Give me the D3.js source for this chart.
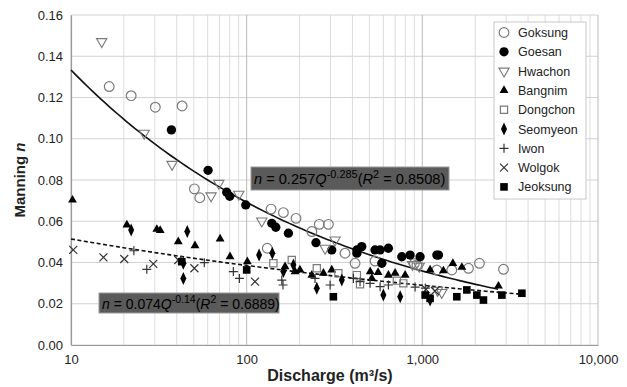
<!DOCTYPE html>
<html><head><meta charset="utf-8">
<script src="https://cdn.jsdelivr.net/npm/d3@7"></script>
<style>
body{margin:0;background:#fff}
svg{font-family:"Liberation Sans",Arial,Helvetica,sans-serif}
</style>
</head><body>
<svg id="chart" width="627" height="387"></svg>
<script>
// ---- data: [discharge Q (m3/s), Manning n] ----
const goksung=[[16.5,.1253],[22,.1209],[30.2,.1153],[42.9,.1159],[50.4,.0757],[54.1,.0714],[131,.0469],[137.7,.0659],[161.8,.0642],[191,.0614],[235,.0550],[259,.0585],[292,.0585],[363,.0445],[414,.0396],[538,.0407],[900,.0395],[931,.0388],[1209,.0364],[1472,.0364],[1831,.0372],[2114,.0396],[2897,.0367]];
const goesan=[[37.3,.1043],[60.3,.0847],[77,.0741],[80.1,.0721],[98.8,.0679],[139,.0590],[146.5,.0571],[172.8,.0542],[248,.0496],[305,.0461],[424,.0461],[452,.0477],[424,.0445],[538,.0461],[575,.0461],[641,.0469],[588,.0396],[764,.0428],[852,.0436],[971,.0428],[1209,.0436],[1236,.0436]];
const hwachon=[[14.95,.1471],[26.1,.1027],[37.6,.0876],[62.7,.0723],[69.4,.0784],[90.2,.0731],[121.9,.0601],[279.6,.0469],[318.6,.0509],[880,.0390],[960,.0382],[1220,.0265],[1290,.0255]];
const bangnim=[[10.2,.0703],[20.8,.0582],[30.8,.0561],[32.2,.0556],[40.8,.0501],[50.8,.0482],[70.6,.0514],[80.4,.0428],[100.9,.0404],[165.4,.0380],[188.6,.0356],[201,.0364],[235,.0339],[273.4,.0348],[305,.0364],[505,.0356],[516,.0323],[560,.0352],[641,.0339],[700,.0348],[798,.0339],[1107,.0364],[1318,.0360],[1492,.0396],[1679,.0377],[2712,.0286]];
const dongchon=[[141.9,.0396],[180.6,.0412],[250.7,.0372],[332.7,.0348],[424,.0339],[442,.0294],[716,.0312],[780,.0299]];
const seomyeon=[[22,.0558],[45.9,.0550],[43.6,.0396],[43.6,.0323],[117.7,.0436],[140,.0445],[161.8,.0356],[184.5,.0388],[250.7,.0275],[348,.0315],[600,.0242],[748,.0234],[1107,.0218]];
const iwon=[[22.8,.0457],[27,.0367],[57.4,.0399],[84,.0356],[90.9,.0323],[158.5,.0315],[161,.0291],[245,.0323],[298.5,.0291],[405,.0323],[442,.0307],[504,.0299],[575,.0283],[641,.0291],[910,.0281],[1040,.0276]];
const wolgok=[[10.3,.0461],[15.3,.0425],[20.1,.0417],[29.4,.0393],[40.8,.0412],[50.4,.0372],[111.6,.0307],[1050,.0270],[1180,.0262]];
const jeoksung=[[42.7,.0404],[100,.0364],[311.6,.0234],[1038,.0242],[1107,.0226],[1571,.0234],[1792,.0267],[2043,.0242],[2228,.0218],[2836,.0242],[3687,.0251]];

const seriesNames=["Goksung","Goesan","Hwachon","Bangnim","Dongchon","Seomyeon","Iwon","Wolgok","Jeoksung"];
const seriesData=[goksung,goesan,hwachon,bangnim,dongchon,seomyeon,iwon,wolgok,jeoksung];

// trend curves: [coefficient, exponent, Qstart, Qend]
const solidTrend=[0.257,-0.285,10,2700];
const dashedTrend=[0.0685,-0.1247,10,3690];

const yTicks=[0,0.02,0.04,0.06,0.08,0.10,0.12,0.14,0.16];
const xTicks=[10,100,1000,10000];

// ---- layout ----
const svg=d3.select("#chart");
const L=71,R=598,T=15,B=345;
const x=d3.scaleLog().domain([10,10000]).range([L,R]);
const y=d3.scaleLinear().domain([0,0.16]).range([B,T]);

// minor vertical grid
const minor=[];
[10,100,1000].forEach(d=>{for(let k=2;k<=9;k++)minor.push(d*k);});
svg.append("g").selectAll("line").data(minor).join("line")
  .attr("x1",d=>x(d)).attr("x2",d=>x(d)).attr("y1",T).attr("y2",B)
  .attr("stroke","#dcdcdc").attr("stroke-width",1);
// horizontal grid
svg.append("g").selectAll("line").data(yTicks).join("line")
  .attr("x1",L).attr("x2",R).attr("y1",d=>y(d)).attr("y2",d=>y(d))
  .attr("stroke","#d2d2d2").attr("stroke-width",1);
// major vertical grid
svg.append("g").selectAll("line").data(xTicks).join("line")
  .attr("x1",d=>x(d)).attr("x2",d=>x(d)).attr("y1",T).attr("y2",B)
  .attr("stroke","#bbbbbb").attr("stroke-width",1);

// axes
const yAxis=d3.axisLeft(y).tickValues(yTicks).tickFormat(d3.format(".2f")).tickSize(0).tickPadding(8);
const gy=svg.append("g").attr("transform",`translate(${L},0)`).call(yAxis);
const xAxis=d3.axisBottom(x).tickValues(xTicks).tickFormat(d3.format(",")).tickSize(0).tickPadding(10);
const gx=svg.append("g").attr("transform",`translate(0,${B})`).call(xAxis);
[gx,gy].forEach(g=>{
  g.select(".domain").attr("stroke","#9a9a9a").attr("stroke-width",1.2);
  g.selectAll("text").attr("font-size",13).attr("fill","#222").attr("font-family","Liberation Sans, Arial, sans-serif");
});

// axis titles
svg.append("text").attr("x",330).attr("y",381).attr("text-anchor","middle")
  .attr("font-size",16).attr("font-weight","bold").attr("fill","#222")
  .text("Discharge (m³/s)");
const yt=svg.append("text").attr("transform","translate(25,180) rotate(-90)")
  .attr("text-anchor","middle").attr("font-size",15).attr("font-weight","bold").attr("fill","#222");
yt.append("tspan").text("Manning ");
yt.append("tspan").attr("font-style","italic").text("n");

// trend lines
function trendPts(t){
  const [a,b,q0,q1]=t;
  return d3.range(0,101).map(i=>{const q=q0*Math.pow(q1/q0,i/100);return [q,a*Math.pow(q,b)];});
}
const line=d3.line().x(d=>x(d[0])).y(d=>y(d[1]));
svg.append("path").attr("d",line(trendPts(solidTrend))).attr("fill","none").attr("stroke","#111").attr("stroke-width",1.6);
svg.append("path").attr("d",line(trendPts(dashedTrend))).attr("fill","none").attr("stroke","#111").attr("stroke-width",1.6).attr("stroke-dasharray","4,2.5");

// markers
const sym={
  circleOpen:d3.symbol(d3.symbolCircle,74)(),
  circleFill:d3.symbol(d3.symbolCircle,68)(),
  triDown:d3.symbol(d3.symbolTriangle,46)(),
  triUp:d3.symbol(d3.symbolTriangle,34)(),
  square:d3.symbol(d3.symbolSquare,52)(),
  diamond:"M0,-6.5L3,0L0,6.5L-3,0Z",
  plus:"M-4.5,0H4.5M0,-4.5V4.5",
  cross:"M-4,-4L4,4M-4,4L4,-4",
  squareFill:d3.symbol(d3.symbolSquare,58)()
};
const styles=[
  {p:sym.circleOpen,fill:"none",stroke:"#7a7a7a",sw:1.2,rot:0},
  {p:sym.circleFill,fill:"#000",stroke:"none",sw:0,rot:0},
  {p:sym.triDown,fill:"none",stroke:"#7a7a7a",sw:1.1,rot:180},
  {p:sym.triUp,fill:"#000",stroke:"none",sw:0,rot:0},
  {p:sym.square,fill:"none",stroke:"#7a7a7a",sw:1.2,rot:0},
  {p:sym.diamond,fill:"#000",stroke:"none",sw:0,rot:0},
  {p:sym.plus,fill:"none",stroke:"#333",sw:1.2,rot:0},
  {p:sym.cross,fill:"none",stroke:"#333",sw:1.2,rot:0},
  {p:sym.squareFill,fill:"#000",stroke:"none",sw:0,rot:0}
];
seriesData.forEach((data,i)=>{
  const s=styles[i];
  svg.append("g").selectAll("path").data(data).join("path")
    .attr("d",s.p)
    .attr("transform",d=>`translate(${x(d[0])},${y(d[1])})${s.rot?` rotate(${s.rot})`:""}`)
    .attr("fill",s.fill).attr("stroke",s.stroke).attr("stroke-width",s.sw);
});

// equation boxes
function eqBox(x0,y0,w,h,fs,coef,expo,r2){
  const g=svg.append("g");
  g.append("rect").attr("x",x0).attr("y",y0).attr("width",w).attr("height",h)
    .attr("fill","#5a5a5a").attr("stroke","#9a9a9a").attr("stroke-width",1);
  const t=g.append("text").attr("x",x0+3).attr("y",y0+h/2+5.5).attr("font-size",fs).attr("fill","#000");
  const ss=fs*0.75;
  t.append("tspan").attr("font-style","italic").text("n");
  t.append("tspan").text(" = "+coef);
  t.append("tspan").attr("font-style","italic").text("Q");
  t.append("tspan").attr("font-size",ss).attr("dy",-6).text(expo);
  t.append("tspan").attr("dy",6).text("(");
  t.append("tspan").attr("font-style","italic").text("R");
  t.append("tspan").attr("font-size",ss).attr("dy",-6).text("2");
  t.append("tspan").attr("dy",6).text(" = "+r2+")");
}
eqBox(251,167,198,23,14.6,"0.257","-0.285","0.8508");
eqBox(99,293,180,20,14,"0.074","-0.14","0.6889");

// legend
const lg=svg.append("g");
lg.append("rect").attr("x",494).attr("y",22).attr("width",92).attr("height",177)
  .attr("fill","#fff").attr("stroke","#c8c8c8").attr("stroke-width",1);
seriesNames.forEach((nm,i)=>{
  const s=styles[i]; const cy=32.5+i*19.3;
  lg.append("path").attr("d",s.p)
    .attr("transform",`translate(504,${cy})${s.rot?` rotate(${s.rot})`:""}`)
    .attr("fill",s.fill).attr("stroke",s.stroke).attr("stroke-width",s.sw);
  lg.append("text").attr("x",518).attr("y",cy+4.5).attr("font-size",12.5).attr("fill","#222").text(nm);
});
</script>
</body></html>
